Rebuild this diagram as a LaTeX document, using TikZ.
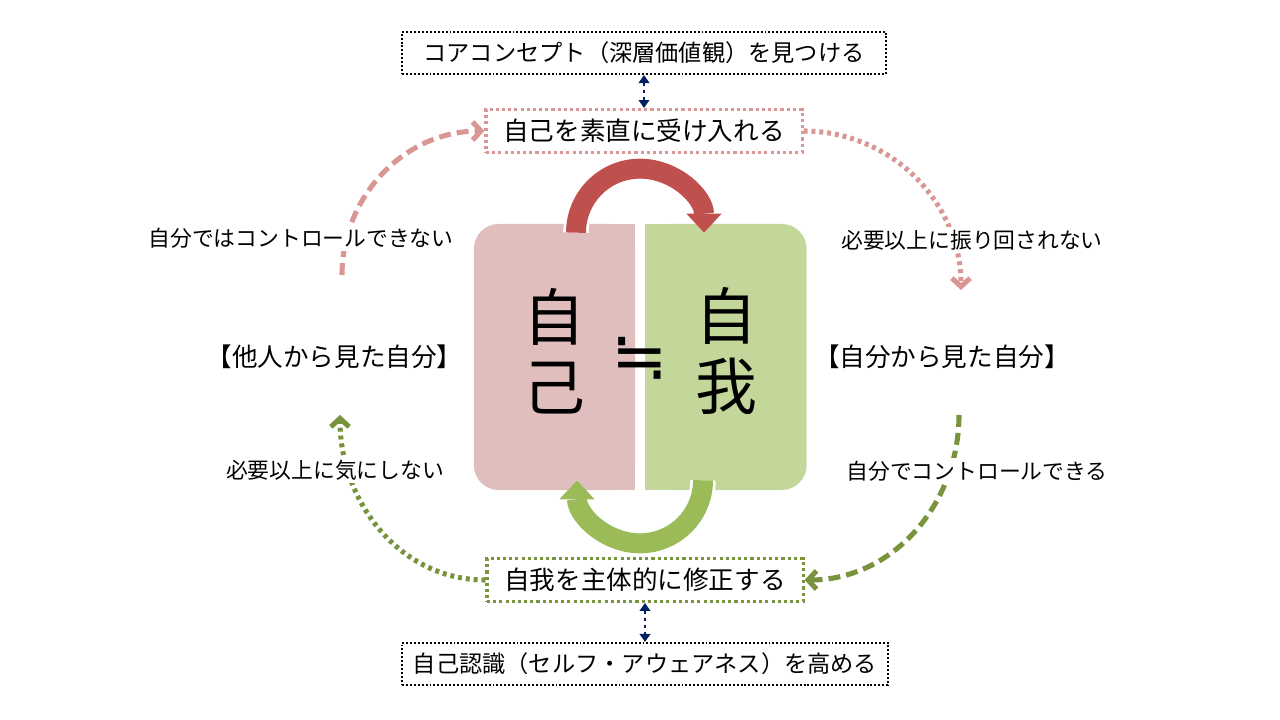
\documentclass[tikz,border=0pt]{standalone}
\usepackage{fontspec}
\setmainfont{Noto Sans CJK JP}
\newfontfamily\symfont{DejaVu Sans}
\usetikzlibrary{arrows.meta,positioning,calc}
\definecolor{selfpink}{RGB}{224,190,190}
\definecolor{egogreen}{RGB}{196,215,155}
\definecolor{arcred}{RGB}{192,80,77}
\definecolor{arcgreen}{RGB}{155,187,89}
\definecolor{dashpink}{RGB}{217,150,148}
\definecolor{dashgreen}{RGB}{119,147,60}
\definecolor{linknavy}{RGB}{0,32,96}

\begin{document}
\begin{tikzpicture}[x=0.025cm, y=0.025cm,
  corebox/.style={rectangle, rounded corners=0.62cm, minimum width=4.03cm,
                  minimum height=6.65cm, inner sep=0pt},
  bigchar/.style={font=\fontsize{44}{50}\selectfont, align=center, inner sep=0pt},
  goalbox/.style={rectangle, draw=black, line width=1.4pt, dash pattern=on 1.4pt off 1.4pt,
                  fill=white, minimum height=1.05cm, inner sep=0pt,
                  font=\fontsize{16.5}{18}\selectfont},
  stepbox/.style={rectangle, draw=#1, line width=2.2pt, dash pattern=on 2.2pt off 2.2pt,
                  fill=white, minimum width=7.9cm, minimum height=1.07cm, inner sep=0pt,
                  font=\fontsize{18.2}{20}\selectfont},
  side/.style={fill=white, inner sep=2pt, font=\fontsize{15.5}{17}\selectfont},
  halo/.style={line width=18pt, white, -{Triangle[width=30pt, length=17pt, line width=0pt]}},
  turn/.style={line width=14.2pt, #1, -{Triangle[width=25pt, length=13.5pt, line width=0pt]}},
  loopline/.style={line width=3.6pt, #1, -{Straight Barb[length=6pt, width=13pt]}},
  dashline/.style={dash pattern=on 8.5pt off 4.3pt},
  dotline/.style={dash pattern=on 2.8pt off 2.8pt},
  link/.style={linknavy, line width=2.1pt, dash pattern=on 2.5pt off 2.5pt,
               {Triangle[width=7.5pt, length=5.7pt]}-{Triangle[width=7.5pt, length=5.7pt]}}
]
  \useasboundingbox (0,0) rectangle (1280,-720);

  % core pair
  \node[corebox, fill=selfpink] (self) at (554.5,-357) {};
  \fill[selfpink] (self.north) rectangle (self.south east);
  \node[corebox, fill=egogreen] (ego) at (726,-357) {};
  \fill[egogreen] (ego.north west) rectangle (ego.south);

  \node[bigchar] (selfch) at ([yshift=0.15cm]self.center) {自\\己};
  \node[bigchar] (egoch) at ([yshift=0.15cm]ego.center) {自\\我};
  \node[font=\symfont\fontsize{48}{48}\selectfont, inner sep=0pt] (approx) at (640,-358) {≒};

  % turning arrows
  \draw[halo] ($(self.north)+(21.5,-9)$) arc[start angle=180, end angle=0, radius=64];
  \draw[turn=arcred] ($(self.north)+(21.5,-9)$) arc[start angle=180, end angle=0, radius=64];
  \draw[halo] ($(ego.south)+(-23,10)$) arc[start angle=0, end angle=-180, radius=63];
  \draw[turn=arcgreen] ($(ego.south)+(-23,10)$) arc[start angle=0, end angle=-180, radius=63];

  % step boxes
  \node[stepbox=dashpink] (accept) at (644,-131) {自己を素直に受け入れる};
  \node[goalbox, minimum width=12.1cm, above=0.825cm of accept] (concept)
        {コアコンセプト（深層価値観）を見つける};
  \node[stepbox=dashgreen] (modify) at (645,-580) {自我を主体的に修正する};
  \node[goalbox, minimum width=12.15cm, below=0.975cm of modify] (aware)
        {自己認識（セルフ・アウェアネス）を高める};

  % loops
  \coordinate (lowL) at (342,-275);
  \coordinate (lowR) at (961,-290);
  \coordinate (upR) at (959,-415);
  \coordinate (upL) at (340,-415);
  \draw[loopline=dashpink, dashline] (lowL) to[out=90, in=180] (accept.west);
  \draw[loopline=dashpink, dotline] (accept.east) to[out=0, in=90] (lowR);
  \draw[loopline=dashgreen, dashline] (upR) to[out=-90, in=0] (modify.east);
  \draw[loopline=dashgreen, dotline] (modify.west) to[out=180, in=-90] (upL);

  % side labels
  \node[side] (cannot) at (301,-238) {自分ではコントロールできない};
  \node[side, font=\fontsize{18.2}{20}\selectfont, left=0.2cm of self] (others)
        {【他人から見た自分】};
  \node[side] (nocare) at (335,-470) {必要以上に気にしない};
  \node[side] (nodrift) at (972,-240) {必要以上に振り回されない};
  \node[side, font=\fontsize{18.2}{20}\selectfont, right=0.1cm of ego] (selfview)
        {【自分から見た自分】};
  \node[side] (can) at (977,-471) {自分でコントロールできる};

  % links
  \draw[link] (concept.south) -- (concept.south |- accept.north);
  \draw[link] (modify.south) -- (modify.south |- aware.north);
\end{tikzpicture}
\end{document}
